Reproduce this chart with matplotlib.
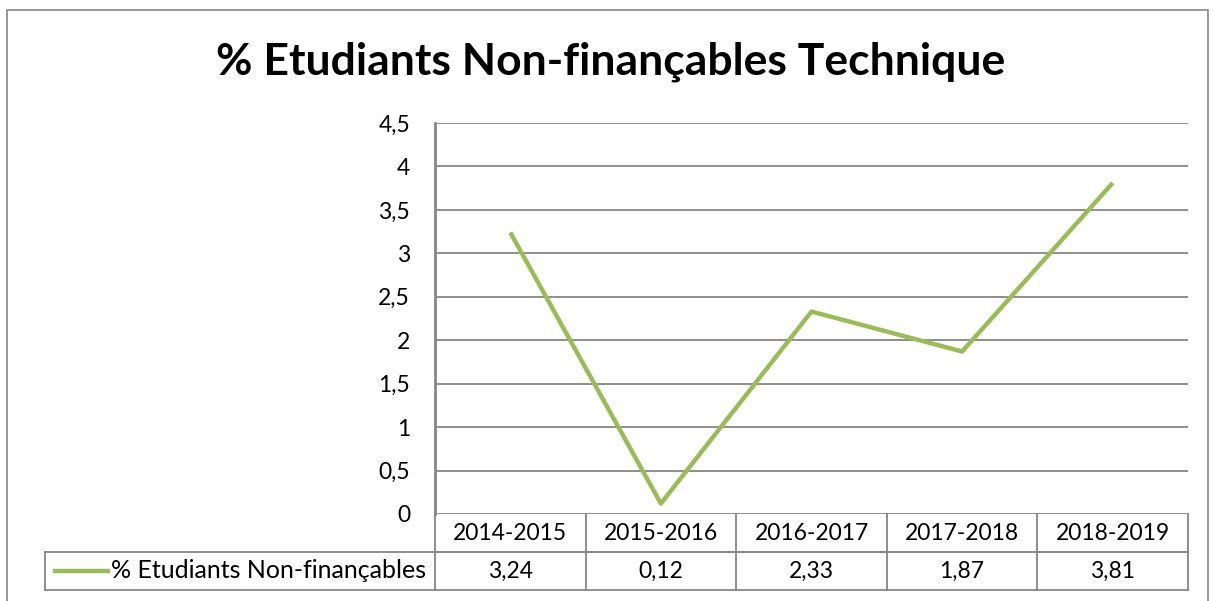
import matplotlib.pyplot as plt
from matplotlib.patches import Rectangle
from matplotlib.lines import Line2D

# données
years = ['2014-2015', '2015-2016', '2016-2017', '2017-2018', '2018-2019']
values = [3.24, 0.12, 2.33, 1.87, 3.81]
series_name = '% Etudiants Non-finançables'
title = '% Etudiants Non-finançables Technique'
yticks = [0, 0.5, 1, 1.5, 2, 2.5, 3, 3.5, 4, 4.5]

green = '#9BBB59'
grey = '#868686'
plt.rcParams['font.family'] = ['Lato', 'DejaVu Sans']
fs = 16.5

W, H = 1213, 601
fig = plt.figure(figsize=(W / 100, H / 100), dpi=100)

# cadre extérieur du graphique
fig.patches.append(Rectangle((7 / W, -0.1), 1201 / W, 1 - 10 / H + 0.1,
                             transform=fig.transFigure, fill=False,
                             edgecolor=grey, linewidth=1.2))

ax = fig.add_axes([435 / W, (H - 514) / H, 753 / W, 391 / H])
x = list(range(len(years)))
ax.plot(x, values, color=green, linewidth=3.2, solid_capstyle='butt', zorder=3)

ax.set_xlim(-0.5, len(years) - 0.5)
ax.set_ylim(0, 4.5)
ax.set_yticks(yticks)
ax.set_yticklabels([f'{t:g}'.replace('.', ',') for t in yticks], fontsize=fs)
ax.set_xticks([])
ax.tick_params(axis='y', length=0, pad=18)
for yt in yticks:
    ax.axhline(yt, color=grey, linewidth=1.3, zorder=1)
for s in ['top', 'right', 'bottom']:
    ax.spines[s].set_visible(False)
ax.spines['left'].set_color(grey)
ax.spines['left'].set_linewidth(2)

fig.text(0.503, 1 - 62 / H, title, ha='center', va='center',
         fontsize=32, fontweight='bold')

# table de données sous l'axe
row_h = 38 / 391
leg_left = (45 - 435) / 753
kw = dict(color=grey, linewidth=1.3, transform=ax.transAxes, clip_on=False)
ax.add_line(Line2D([0, 1], [-row_h, -row_h], **kw))
ax.add_line(Line2D([leg_left, 1], [-row_h, -row_h], **kw))
ax.add_line(Line2D([leg_left, 1], [-2 * row_h, -2 * row_h], **kw))
ax.add_line(Line2D([leg_left, leg_left], [-row_h, -2 * row_h], **kw))
for i in range(len(years) + 1):
    xa = i / len(years)
    ax.add_line(Line2D([xa, xa], [0, -2 * row_h], **kw))
for i, (yr, v) in enumerate(zip(years, values)):
    xc = (i + 0.5) / len(years)
    ax.text(xc, -0.5 * row_h, yr, transform=ax.transAxes, ha='center',
            va='center', fontsize=fs)
    ax.text(xc, -1.5 * row_h, f'{v:.2f}'.replace('.', ','), transform=ax.transAxes,
            ha='center', va='center', fontsize=fs)

ax.text(-0.012, -1.5 * row_h, series_name, transform=ax.transAxes, ha='right',
        va='center', fontsize=18)
ax.add_line(Line2D([(55 - 435) / 753, (108 - 435) / 753], [-1.5 * row_h, -1.5 * row_h],
                   color=green, linewidth=3.2, transform=ax.transAxes, clip_on=False))

fig.savefig('out.png', dpi=100)
